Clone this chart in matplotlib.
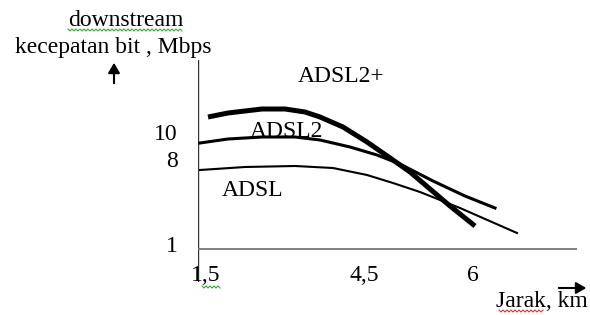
import numpy as np
import matplotlib
matplotlib.use('Agg')
import matplotlib.pyplot as plt
from matplotlib.lines import Line2D
from matplotlib.patches import FancyArrowPatch

# diagram units: x = pixels right of the y axis, y = pixels above the x axis
adsl2p_x = [10, 30, 64, 87, 107, 122, 145, 169, 195, 212, 232, 252, 277]
adsl2p_y = [132, 136, 140, 140, 137, 132, 122, 107, 89, 77, 60, 43, 23]
adsl2_x = [2, 30, 64, 97, 122, 152, 179, 202, 235, 267, 297]
adsl2_y = [106, 110, 112, 112, 109, 102, 94, 85, 68, 53, 41]
adsl_x = [2, 47, 97, 135, 169, 195, 222, 262, 319]
adsl_y = [79, 82, 83, 81, 74, 66, 57, 41, 16]

series_names = ['ADSL2+', 'ADSL2', 'ADSL']
xtick_labels = ['1,5', '4,5', '6']
xtick_pos = [8, 166, 275]
ytick_labels = ['10', '8', '1']
ytick_pos = [109, 82, -3]

W, H = 590, 315
FONT = 'Liberation Serif'
FS = 17

fig = plt.figure(figsize=(W / 100, H / 100), dpi=100)
ax = fig.add_axes([198 / W, 1 - 282 / H, 379 / W, 222 / H])
ax.set_xlim(0, 379)
ax.set_ylim(-33, 189)
ax.axis('off')

def fx(px):
    return px / W

def fy(py):
    return 1 - py / H

# axis lines
ax.axvline(0, color='#333333', lw=1.0)
ax.axhline(0, color='#777777', lw=1.3)

ax.plot(adsl2p_x, adsl2p_y, color='black', lw=3.6, solid_capstyle='butt', solid_joinstyle='round')
ax.plot(adsl2_x, adsl2_y, color='black', lw=2.2, solid_joinstyle='round')
ax.plot(adsl_x, adsl_y, color='black', lw=1.5, solid_joinstyle='round')

ax.text(100, 167, series_names[0], family=FONT, fontsize=FS, va='baseline', ha='left')
ax.text(52, 112, series_names[1], family=FONT, fontsize=FS, va='baseline', ha='left')
ax.text(24, 53, series_names[2], family=FONT, fontsize=FS, va='baseline', ha='left')

for lab, p in zip(ytick_labels, ytick_pos):
    ax.text(-20, p, lab, family=FONT, fontsize=FS, va='baseline', ha='right')
for lab, p in zip(xtick_labels, xtick_pos):
    ax.text(p, -32, lab, family=FONT, fontsize=FS, va='baseline', ha='center')

# axis titles
fig.text(fx(126), fy(26), 'downstream', family=FONT, fontsize=FS, va='baseline', ha='center')
fig.text(fx(15), fy(53), 'kecepatan bit , Mbps', family=FONT, fontsize=FS, va='baseline', ha='left')
fig.text(fx(588), fy(307), 'Jarak, km', family=FONT, fontsize=FS, va='baseline', ha='right')

fig.patches.append(FancyArrowPatch(
    (fx(114), fy(86)), (fx(114), fy(60)), transform=fig.transFigure,
    arrowstyle='-|>,head_length=6,head_width=3.5', lw=1.5, color='black'))
fig.patches.append(FancyArrowPatch(
    (fx(556), fy(288)), (fx(589), fy(288)), transform=fig.transFigure,
    arrowstyle='-|>,head_length=6,head_width=3.5', lw=1.5, color='black'))

# spell-check squiggles
def squiggle(x0, x1, y, color):
    xs = np.arange(x0, x1 + 1, 2)
    ys = y + np.where(np.arange(len(xs)) % 2 == 0, -1, 1)
    fig.add_artist(Line2D(fx(xs), fy(ys), color=color, lw=0.8, transform=fig.transFigure))

squiggle(68, 183, 30, '#33aa33')
squiggle(202, 220, 287, '#33aa33')
squiggle(499, 543, 311, '#dd3333')

fig.savefig('out.png', dpi=100)
